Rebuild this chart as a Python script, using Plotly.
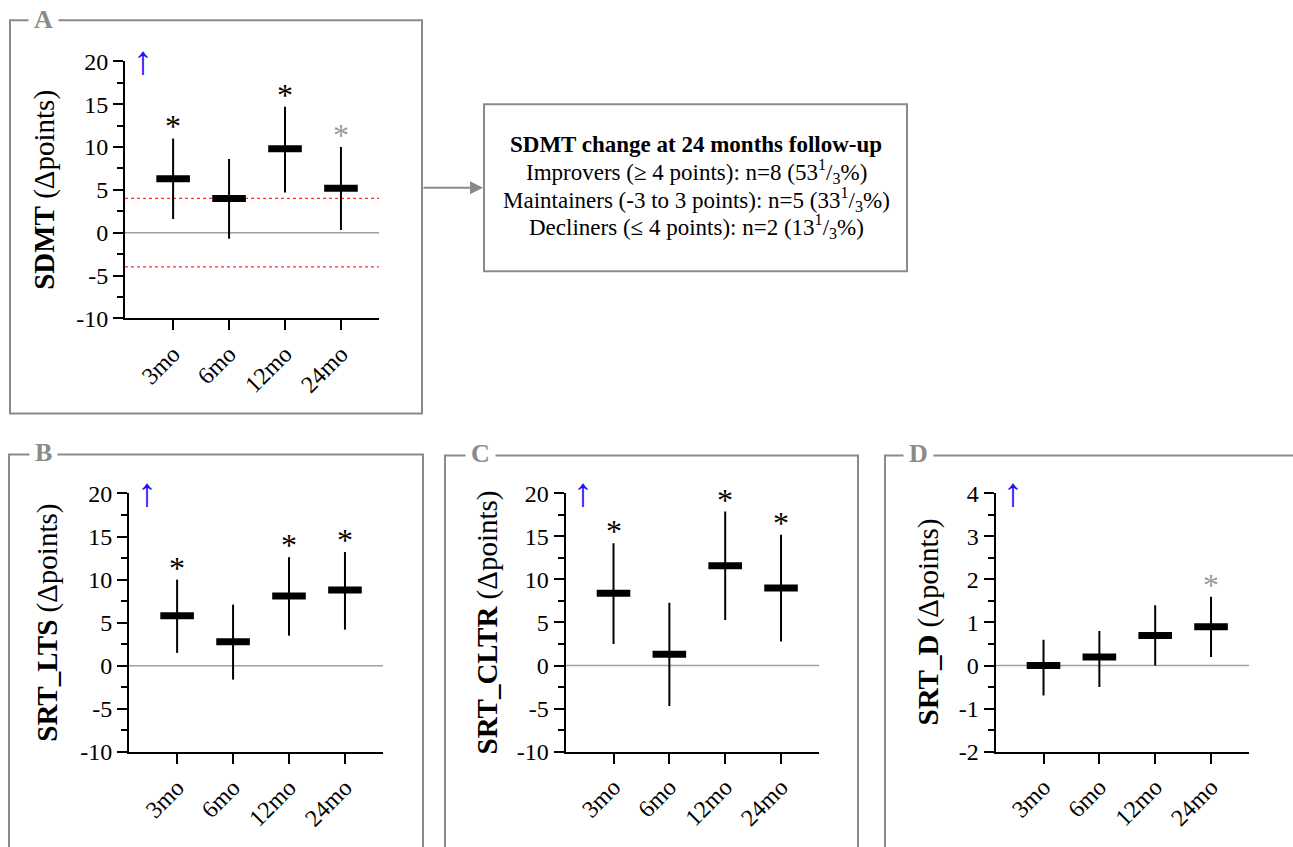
import plotly.graph_objects as go

W, H = 1293, 847
FONT = "Liberation Serif"

# ---------------- data ----------------
timepoints = ["3mo", "6mo", "12mo", "24mo"]

sdmt_median = [6.3, 4.0, 9.8, 5.2]
sdmt_low = [1.6, -0.7, 4.7, 0.3]
sdmt_high = [11.0, 8.6, 14.7, 10.0]
sdmt_sig = [2, 0, 2, 1]          # 2 = significant (black *), 1 = grey *, 0 = none

lts_median = [5.8, 2.8, 8.1, 8.8]
lts_low = [1.5, -1.6, 3.5, 4.2]
lts_high = [10.0, 7.1, 12.6, 13.2]
lts_sig = [2, 0, 2, 2]

cltr_median = [8.4, 1.3, 11.6, 9.0]
cltr_low = [2.5, -4.7, 5.3, 2.8]
cltr_high = [14.2, 7.3, 17.9, 15.2]
cltr_sig = [2, 0, 2, 2]

d_median = [0.0, 0.2, 0.7, 0.9]
d_low = [-0.7, -0.5, 0.0, 0.2]
d_high = [0.6, 0.8, 1.4, 1.6]
d_sig = [0, 0, 0, 1]

ticks_wide = [-10, -5, 0, 5, 10, 15, 20]
ticks_narrow = [-2, -1, 0, 1, 2, 3, 4]
sdmt_mcid = [4, -4]

box_title = "SDMT change at 24 months follow-up"
box_lines = [
    "Improvers (≥ 4 points): n=8 (53<sup>1</sup>/<sub>3</sub>%)",
    "Maintainers (-3 to 3 points): n=5 (33<sup>1</sup>/<sub>3</sub>%)",
    "Decliners (≤ 4 points): n=2 (13<sup>1</sup>/<sub>3</sub>%)",
]

# ---------------- layout geometry (pixels) ----------------
YC, K = 410.0, 1.032


def fx(p):
    return p / W


def fy(p):
    return 1 - (YC + (p - YC) * K) / H


panels = [
    dict(letter="A", title="<b>SDMT</b> (Δpoints)", med=sdmt_median, lo=sdmt_low, hi=sdmt_high,
         sig=sdmt_sig, ticks=ticks_wide, minor=2.5, plot=(125, 379, 61, 318), title_x=45,
         frame=(10, 20, 422, 413), letter_xy=(43, 19)),
    dict(letter="B", title="<b>SRT_LTS</b> (Δpoints)", med=lts_median, lo=lts_low, hi=lts_high,
         sig=lts_sig, ticks=ticks_wide, minor=2.5, plot=(129, 383, 493, 751.5), title_x=48,
         frame=(9, 454, 423, 900), letter_xy=(43, 452)),
    dict(letter="C", title="<b>SRT_CLTR</b> (Δpoints)", med=cltr_median, lo=cltr_low, hi=cltr_high,
         sig=cltr_sig, ticks=ticks_wide, minor=2.5, plot=(565.5, 819, 493, 751), title_x=487,
         frame=(445, 455, 858, 900), letter_xy=(480, 453)),
    dict(letter="D", title="<b>SRT_D</b> (Δpoints)", med=d_median, lo=d_low, hi=d_high,
         sig=d_sig, ticks=ticks_narrow, minor=0.5, plot=(995.5, 1249, 493, 751), title_x=928,
         frame=(885, 455, 1310, 900), letter_xy=(918, 453)),
]

fig = go.Figure()
shapes = []
annotations = []
layout_axes = {}
FRAME_COL = "#8a8a8a"

for i, p in enumerate(panels, start=1):
    xa = "x" if i == 1 else f"x{i}"
    ya = "y" if i == 1 else f"y{i}"
    x0, x1, y0, y1 = p["plot"]

    err_up = [h - m for h, m in zip(p["hi"], p["med"])]
    err_dn = [m - l for m, l in zip(p["med"], p["lo"])]

    # whiskers + median bars
    fig.add_trace(go.Scatter(
        x=timepoints, y=p["med"], mode="markers", xaxis=xa, yaxis=ya,
        marker=dict(symbol="line-ew", size=24, line=dict(width=7, color="black"), color="black"),
        error_y=dict(type="data", array=err_up, arrayminus=err_dn, symmetric=False,
                     thickness=2, width=0, color="black"),
        showlegend=False, hoverinfo="skip"))

    # asterisks above the upper whisker
    for t, h, s in zip(timepoints, p["hi"], p["sig"]):
        if s > 0:
            annotations.append(dict(
                xref=xa, yref=ya, x=t, y=h, text="*", showarrow=False,
                xanchor="center", yanchor="middle", yshift=12,
                font=dict(family=FONT, size=32, color="black" if s == 2 else "#9a9a9a")))

    ticks = p["ticks"]
    layout_axes["xaxis" if i == 1 else f"xaxis{i}"] = dict(
        domain=[fx(x0), fx(x1)], anchor=ya, type="category",
        categoryorder="array", categoryarray=timepoints, range=[-0.86, 3.68],
        showline=True, linecolor="black", linewidth=2, ticks="outside", ticklen=10,
        tickwidth=2, tickcolor="black", tickangle=-45,
        tickfont=dict(family=FONT, size=24, color="black"),
        showgrid=False, zeroline=False, fixedrange=True)
    layout_axes["yaxis" if i == 1 else f"yaxis{i}"] = dict(
        domain=[fy(y1), fy(y0)], anchor=xa, range=[ticks[0], ticks[-1]],
        tickmode="array", tickvals=ticks, ticktext=[str(t) for t in ticks],
        showline=True, linecolor="black", linewidth=2, ticks="outside", ticklen=10,
        tickwidth=2, tickcolor="black",
        minor=dict(ticks="outside", ticklen=6, tickwidth=2, tickcolor="black",
                   tick0=ticks[0], dtick=p["minor"], showgrid=False),
        tickfont=dict(family=FONT, size=24, color="black"),
        showgrid=False, zeroline=False, fixedrange=True)

    # zero reference line
    shapes.append(dict(type="line", xref=f"{xa} domain", yref=ya, x0=0, x1=1, y0=0, y1=0,
                       line=dict(color="#a0a0a0", width=1.5), layer="below"))
    if p["letter"] == "A":
        for v in sdmt_mcid:
            shapes.append(dict(type="line", xref=f"{xa} domain", yref=ya, x0=0, x1=1, y0=v, y1=v,
                               line=dict(color="#ff3030", width=1.2, dash="dot"), layer="below"))

    # panel frame
    f0, f1, f2, f3 = p["frame"]
    shapes.append(dict(type="rect", xref="paper", yref="paper", x0=fx(f0), x1=fx(f2),
                       y0=fy(f3), y1=fy(f1), line=dict(color=FRAME_COL, width=2),
                       fillcolor="rgba(0,0,0,0)", layer="below"))
    # panel letter
    lx, ly = p["letter_xy"]
    annotations.append(dict(xref="paper", yref="paper", x=fx(lx), y=fy(ly), text=p["letter"],
                            showarrow=False, xanchor="center", yanchor="middle",
                            font=dict(family=FONT, size=26, color=FRAME_COL, weight="bold"),
                            bgcolor="white", borderpad=5))
    # y title
    annotations.append(dict(xref="paper", yref="paper", x=fx(p["title_x"]), y=fy((y0 + y1) / 2),
                            text=p["title"], textangle=-90, showarrow=False,
                            xanchor="center", yanchor="middle",
                            font=dict(family=FONT, size=29, color="black")))
    # blue "higher is better" arrow
    annotations.append(dict(xref="paper", yref="paper", x=fx(x0 + 17.5), y=fy(y0 - 1),
                            text="↑", showarrow=False, xanchor="center", yanchor="middle",
                            font=dict(family=FONT, size=40, color="#1414ff")))

# summary text box
shapes.append(dict(type="rect", xref="paper", yref="paper", x0=fx(484), x1=fx(907),
                   y0=fy(271), y1=fy(104), line=dict(color=FRAME_COL, width=2),
                   fillcolor="white"))
annotations.append(dict(xref="paper", yref="paper", x=fx(696), y=fy(144),
                        text=box_title, showarrow=False, xanchor="center",
                        yanchor="middle", font=dict(family=FONT, size=23, color="black", weight="bold")))
for k, line in enumerate(box_lines):
    annotations.append(dict(xref="paper", yref="paper", x=fx(696), y=fy(171 + 27.8 * k),
                            text=line, showarrow=False, xanchor="center", yanchor="middle",
                            font=dict(family=FONT, size=23, color="black")))
# connector arrow
annotations.append(dict(xref="paper", yref="paper", x=fx(483), y=fy(187.5), ax=-61, ay=0,
                        axref="pixel", ayref="pixel", text="", showarrow=True,
                        arrowhead=2, arrowsize=1.3, arrowwidth=2, arrowcolor=FRAME_COL))

fig.update_layout(
    width=W, height=H, margin=dict(l=0, r=0, t=0, b=0),
    paper_bgcolor="white", plot_bgcolor="white",
    font=dict(family=FONT, color="black"),
    shapes=shapes, annotations=annotations, showlegend=False,
    **layout_axes)

fig.write_html("out.html", config={"displayModeBar": False},
               post_script="document.body.style.margin='0';document.body.style.overflow='hidden';")
